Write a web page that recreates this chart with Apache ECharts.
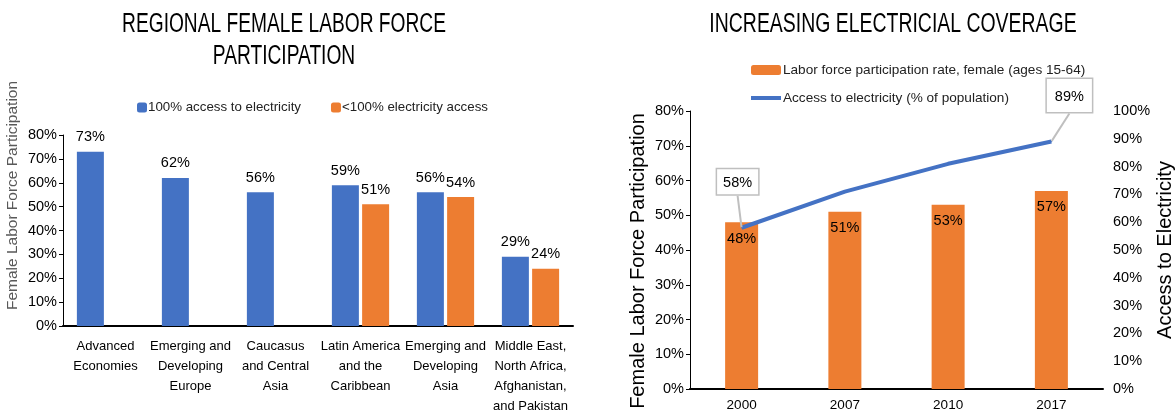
<!DOCTYPE html>
<html><head><meta charset="utf-8">
<script src="https://cdn.jsdelivr.net/npm/echarts@6/dist/echarts.min.js"></script>
<style>html,body{margin:0;padding:0;background:#fff}#c{width:1176px;height:416px}</style>
</head><body><div id="c"></div>
<script>
const regions = ["Advanced\nEconomies","Emerging and\nDeveloping\nEurope","Caucasus\nand Central\nAsia","Latin America\nand the\nCaribbean","Emerging and\nDeveloping\nAsia","Middle East,\nNorth Africa,\nAfghanistan,\nand Pakistan"];
const fullAccess = [73, 62, 56, 59, 56, 29];
const partialAccess = [null, null, null, 51, 54, 24];
const years = ["2000","2007","2010","2017"];
const laborRate = [48, 51, 53, 57];
const electricity = [58, 71, 81, 89];
const calloutIdx = [0, 3];
const leftTitle = ['REGIONAL FEMALE LABOR FORCE', 'PARTICIPATION'];
const rightTitle = 'INCREASING ELECTRICIAL COVERAGE';

const F = "'Liberation Sans',Arial,sans-serif";
const BLUE = '#4472C4', ORANGE = '#ED7D31';
const chart = echarts.init(document.getElementById('c'));
const pct = v => v + '%';
const titleText = (t, x, y, sx) => ({type:'text', x:x, y:y, scaleX:sx, silent:true,
  style:{text:t, font:"normal 27px 'Liberation Sans',Arial,sans-serif", fill:'#000', textAlign:'center', textVerticalAlign:'middle'}});
const calloutPad = [[6,6,4,6],[10,8,8,8]];
chart.setOption({
  animation:false,
  textStyle:{fontFamily:F},
  graphic:[
    titleText(leftTitle[0], 284, 25, 0.71),
    titleText(leftTitle[1], 284, 57, 0.71),
    titleText(rightTitle, 893, 25, 0.72)
  ],
  legend:[
    {data:['100% access to electricity','<100% electricity access'], left:132, top:96, itemWidth:10, itemHeight:10, itemGap:30,
     textStyle:{fontFamily:F, fontSize:13.3, color:'#222', padding:[0,0,0,-4]}},
    {data:['Labor force participation rate, female (ages 15-64)',
           {name:'Access to electricity (% of population)', icon:'path://M0,0 L30,0 L30,4 L0,4 Z'}],
     orient:'vertical', left:746, top:58, itemWidth:30, itemHeight:10, itemGap:14,
     textStyle:{fontFamily:F, fontSize:13.6, color:'#222', padding:[0,0,0,-3]}}
  ],
  grid:[
    {left:63, right:603, top:135, bottom:88},
    {left:690, right:68, top:111, bottom:27}
  ],
  xAxis:[
    {type:'category', gridIndex:0, data:regions, axisTick:{show:false},
     axisLine:{lineStyle:{color:'#000', width:2}},
     axisLabel:{interval:0, fontFamily:F, fontSize:13, color:'#000', lineHeight:20, margin:10}},
    {type:'category', gridIndex:1, data:years, axisTick:{show:false},
     axisLine:{lineStyle:{color:'#000', width:2}},
     axisLabel:{fontFamily:F, fontSize:13.5, color:'#000', margin:9}}
  ],
  yAxis:[
    {type:'value', gridIndex:0, min:0, max:80, interval:10, splitLine:{show:false},
     axisLine:{show:true, lineStyle:{color:'#000'}}, axisTick:{show:true, length:4, lineStyle:{color:'#000'}},
     axisLabel:{formatter:pct, fontFamily:F, fontSize:14.5, color:'#000', margin:6},
     name:'Female Labor Force Participation', nameLocation:'middle', nameGap:42, nameRotate:90,
     nameTextStyle:{fontFamily:F, fontSize:15.5, color:'#595959', padding:[0,0,0,70]}},
    {type:'value', gridIndex:1, min:0, max:80, interval:10, splitLine:{show:false},
     axisLine:{show:true, lineStyle:{color:'#000'}}, axisTick:{show:true, length:4, lineStyle:{color:'#000'}},
     axisLabel:{formatter:pct, fontFamily:F, fontSize:14.5, color:'#000', margin:6},
     name:'Female Labor Force Participation', nameLocation:'middle', nameGap:42, nameRotate:90,
     nameTextStyle:{fontFamily:F, fontSize:20, color:'#000', padding:[0,22,0,0]}},
    {type:'value', gridIndex:1, position:'right', min:0, max:100, interval:10, splitLine:{show:false},
     axisLine:{show:false}, axisTick:{show:false},
     axisLabel:{formatter:pct, fontFamily:F, fontSize:14.5, color:'#000', margin:10},
     name:'Access to Electricity', nameLocation:'middle', nameGap:52, nameRotate:90,
     nameTextStyle:{fontFamily:F, fontSize:20, color:'#000'}}
  ],
  series:[
    {name:'100% access to electricity', type:'bar', xAxisIndex:0, yAxisIndex:0, data:fullAccess,
     barWidth:27, barGap:'12%', itemStyle:{color:BLUE},
     label:{show:true, position:'top', formatter:p=>p.value+'%', fontFamily:F, fontSize:14.5, color:'#000', distance:7}},
    {name:'<100% electricity access', type:'bar', xAxisIndex:0, yAxisIndex:0, data:partialAccess,
     barWidth:27, barGap:'12%', itemStyle:{color:ORANGE},
     label:{show:true, position:'top', formatter:p=>p.value+'%', fontFamily:F, fontSize:14.5, color:'#000', distance:7}},
    {name:'Labor force participation rate, female (ages 15-64)', type:'bar', xAxisIndex:1, yAxisIndex:1, data:laborRate,
     barWidth:33, itemStyle:{color:ORANGE},
     label:{show:true, position:'insideTop', formatter:p=>p.value+'%', fontFamily:F, fontSize:14.5, color:'#000', distance:9}},
    {name:'Access to electricity (% of population)', type:'line', xAxisIndex:1, yAxisIndex:2,
     data:electricity.map((v,i)=>{const k=calloutIdx.indexOf(i); return k>=0?{value:v, label:{show:true, padding:calloutPad[k]}}:v;}),
     showSymbol:true, symbol:'circle', symbolSize:1, lineStyle:{color:BLUE, width:4}, itemStyle:{color:BLUE},
     label:{show:false, position:'top', formatter:p=>p.value+'%', fontFamily:F, fontSize:14.5, color:'#000',
            backgroundColor:'#fff', borderColor:'#bfbfbf', borderWidth:1.5},
     labelLine:{show:true, lineStyle:{color:'#bfbfbf', width:2}},
     labelLayout:p=>p.dataIndex===0?{dx:-4, dy:-28}:{dx:18, dy:-24}}
  ]
});
</script></body></html>
